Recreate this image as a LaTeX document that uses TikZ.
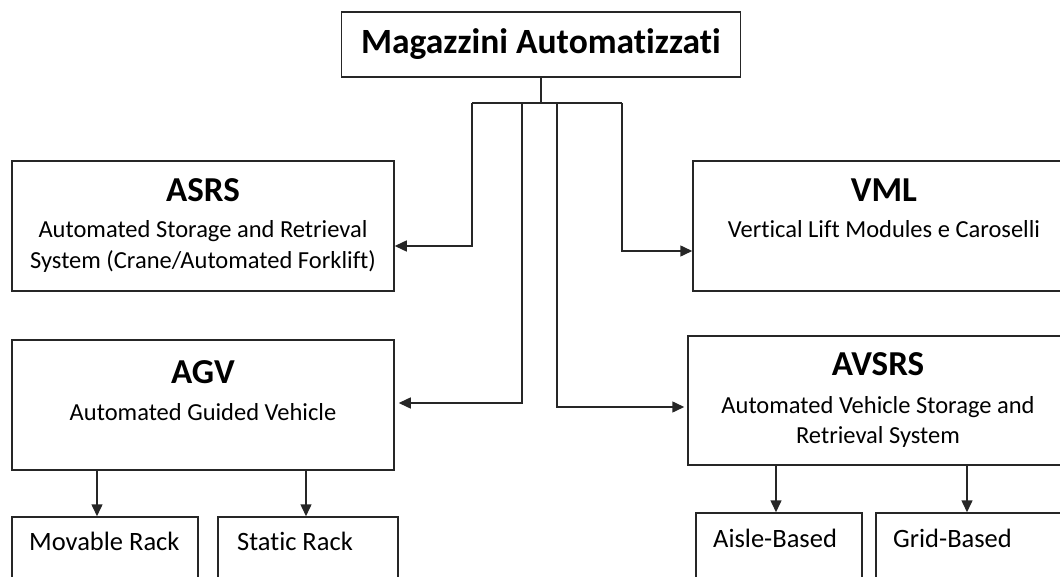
\documentclass[tikz,border=0pt]{standalone}
\usepackage{fontspec}
\setmainfont{Carlito}[Ligatures=NoCommon]
\usetikzlibrary{arrows.meta}

\tikzset{
  box/.style={draw=black!85, line width=1.5pt, inner sep=0pt},
  head/.style={font=\fontsize{35}{42}\selectfont\bfseries, anchor=base, inner sep=0pt},
  sub/.style={font=\fontsize{24.5}{31}\selectfont, anchor=base, inner sep=0pt},
  leaf/.style={font=\fontsize{26.5}{31}\selectfont, anchor=base west, inner sep=0pt},
  link/.style={draw=black!85, line width=1.5pt},
  arr/.style={link, -{Triangle[length=12pt,width=11pt]}}
}

\begin{document}
\begin{tikzpicture}[x=1pt,y=-1pt]
\useasboundingbox (0,0) rectangle (1060,577);
\clip (0,0) rectangle (1060,577);

\node[box, minimum width=399pt, minimum height=65pt, font=\fontsize{35.5}{42}\selectfont\bfseries] (top) at (541,44.5) {Magazzini Automatizzati};

\node[box, minimum width=382pt, minimum height=130pt] (asrs) at (203,226) {};
\node[box, minimum width=382pt, minimum height=130pt] (vml) at (884,226) {};
\node[box, minimum width=382pt, minimum height=130pt] (agv) at (203,405) {};
\node[box, minimum width=380pt, minimum height=129pt] (avsrs) at (878,400.5) {};

\node[box, minimum width=186pt, minimum height=102pt] (mov) at (105,568) {};
\node[box, minimum width=180pt, minimum height=102pt] (stat) at (308,568) {};
\node[box, minimum width=166pt, minimum height=102pt] (aisle) at (779,564) {};
\node[box, minimum width=200pt, minimum height=102pt] (grid) at (976,564) {};

% titoli e descrizioni
\node[head] (asrsT) at (203,202) {ASRS};
\node[sub] (asrsD) at (203,238) {Automated Storage and Retrieval};
\node[sub] (asrsE) at (203,269) {System (Crane/Automated Forklift)};
\node[head] (vmlT) at (884,202) {VML};
\node[sub] (vmlD) at (884,238) {Vertical Lift Modules e Caroselli};
\node[head] (agvT) at (203,383) {AGV};
\node[sub] (agvD) at (203,420) {Automated Guided Vehicle};
\node[head] (avsrsT) at (878,375) {AVSRS};
\node[sub] (avsrsD) at (878,413) {Automated Vehicle Storage and};
\node[sub] (avsrsE) at (878,443) {Retrieval System};

\node[leaf] (movT) at (29,550) {Movable Rack};
\node[leaf] (statT) at (237,550) {Static Rack};
\node[leaf] (aisleT) at (713,547) {Aisle-Based};
\node[leaf] (gridT) at (893,547) {Grid-Based};

% collegamenti
\coordinate (bus) at (541,103);
\coordinate (kA) at (472,103);
\coordinate (kG) at (522,103);
\coordinate (kV) at (557,103);
\coordinate (kM) at (622,103);

\draw[link] (top.south) -- (bus);
\draw[link] (kA) -- (kM);
\draw[arr] (kA) |- ([yshift=-20pt]asrs.east);
\draw[arr] (kM) |- ([yshift=-25pt]vml.west);
\draw[arr] (kG) |- ([xshift=4pt,yshift=2pt]agv.east);
\draw[arr] (kV) |- ([xshift=-3pt,yshift=-6.5pt]avsrs.west);

\draw[arr] ([xshift=-106pt]agv.south) -- ([xshift=-8pt]mov.north);
\draw[arr] ([xshift=103pt]agv.south) -- ([xshift=-2pt]stat.north);
\draw[arr] ([xshift=-102pt]avsrs.south) -- ([xshift=-3pt]aisle.north);
\draw[arr] ([xshift=89pt]avsrs.south) -- ([xshift=-9pt]grid.north);

\end{tikzpicture}
\end{document}
